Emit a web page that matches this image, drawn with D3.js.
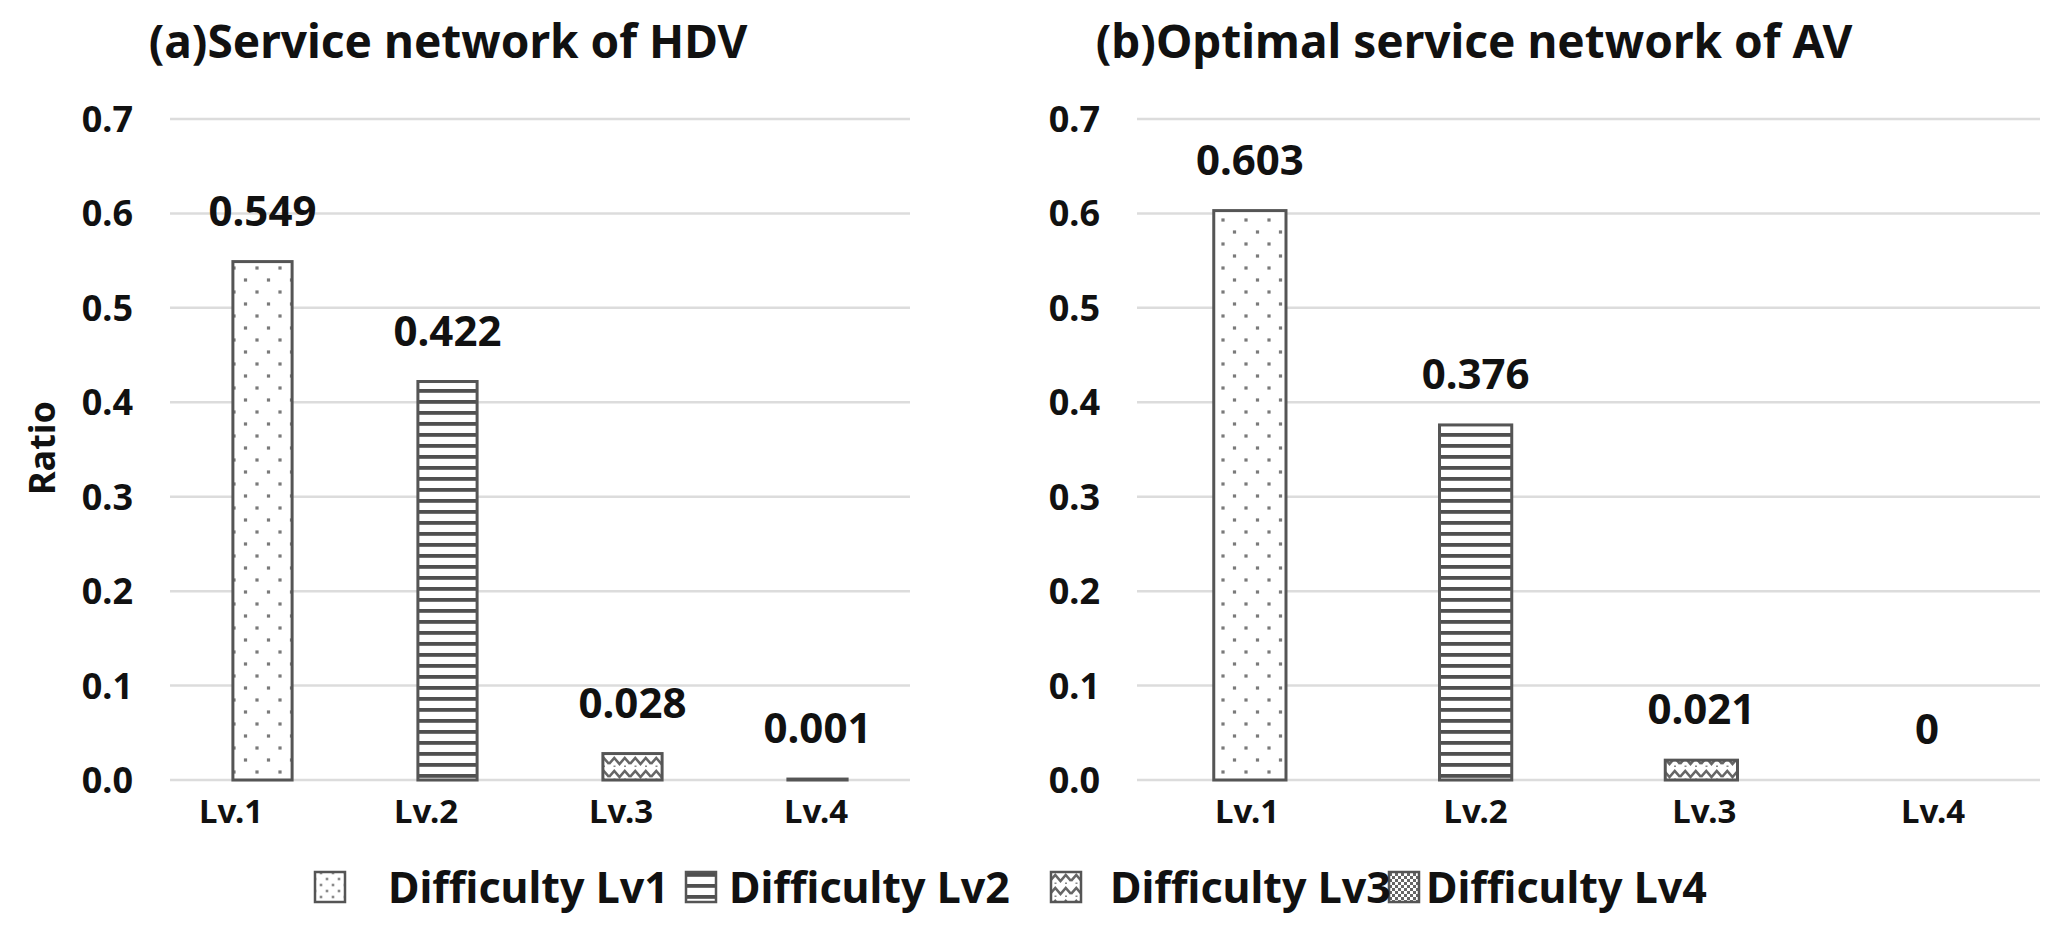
<!DOCTYPE html>
<html>
<head>
<meta charset="utf-8">
<script src="https://cdn.jsdelivr.net/npm/d3@7"></script>
<style>
  html, body { margin: 0; padding: 0; background: #fff; }
  text { font-family: "Noto Sans", "Open Sans", sans-serif; font-weight: 700; fill: #111; }
</style>
</head>
<body>
<svg id="chart" width="2061" height="929"></svg>
<script>
// ---- data ----
const categories = ["Lv.1", "Lv.2", "Lv.3", "Lv.4"];
const hdvValues = [0.549, 0.422, 0.028, 0.001];
const avValues = [0.603, 0.376, 0.021, 0];
const valueLabels_hdv = ["0.549", "0.422", "0.028", "0.001"];
const valueLabels_av = ["0.603", "0.376", "0.021", "0"];
const yTicks = [0, 0.1, 0.2, 0.3, 0.4, 0.5, 0.6, 0.7];
const legendLabels = ["Difficulty Lv1", "Difficulty Lv2", "Difficulty Lv3", "Difficulty Lv4"];
const titles = ["(a)Service network of HDV", "(b)Optimal service network of AV"];
const yAxisTitle = "Ratio";

// ---- setup ----
const svg = d3.select("#chart");
svg.append("rect").attr("width", 2061).attr("height", 929).attr("fill", "#fff");
const defs = svg.append("defs");

// Pattern: dots (Lv1)
const p1 = defs.append("pattern").attr("id", "pat1").attr("patternUnits", "userSpaceOnUse")
  .attr("width", 23).attr("height", 24);
p1.append("rect").attr("width", 23).attr("height", 24).attr("fill", "#fff");
[[4, 4], [15.5, 16]].forEach(([cx, cy]) =>
  p1.append("rect").attr("x", cx - 1.6).attr("y", cy - 1.6).attr("width", 3.2).attr("height", 3.2).attr("fill", "#7a7a7a"));

// Pattern: dots dense (legend Lv1)
const p1b = defs.append("pattern").attr("id", "pat1b").attr("patternUnits", "userSpaceOnUse")
  .attr("width", 12).attr("height", 12);
p1b.append("rect").attr("width", 12).attr("height", 12).attr("fill", "#fff");
[[3, 3], [9, 9]].forEach(([cx, cy]) =>
  p1b.append("rect").attr("x", cx - 1.3).attr("y", cy - 1.3).attr("width", 2.6).attr("height", 2.6).attr("fill", "#8a8a8a"));

// Pattern: horizontal lines (Lv2)
const p2 = defs.append("pattern").attr("id", "pat2").attr("patternUnits", "userSpaceOnUse")
  .attr("width", 10).attr("height", 11);
p2.append("rect").attr("width", 10).attr("height", 11).attr("fill", "#fff");
p2.append("rect").attr("y", 4).attr("width", 10).attr("height", 3.8).attr("fill", "#505050");

// Pattern: wave (Lv3)
const p3 = defs.append("pattern").attr("id", "pat3").attr("patternUnits", "userSpaceOnUse")
  .attr("width", 21).attr("height", 13);
p3.append("rect").attr("width", 21).attr("height", 13).attr("fill", "#fff");
p3.append("path").attr("d", "M0,10 L5.25,4 L10.5,10 L15.75,4 L21,10")
  .attr("fill", "none").attr("stroke", "#666").attr("stroke-width", 2.6);
p3.append("rect").attr("x", 4.5).attr("y", 11.5).attr("width", 2).attr("height", 1.5).attr("fill", "#888");
p3.append("rect").attr("x", 15).attr("y", 11.5).attr("width", 2).attr("height", 1.5).attr("fill", "#888");

// Pattern: small grid (Lv4)
const p4 = defs.append("pattern").attr("id", "pat4").attr("patternUnits", "userSpaceOnUse")
  .attr("width", 6).attr("height", 6);
p4.append("rect").attr("width", 6).attr("height", 6).attr("fill", "#fff");
p4.append("rect").attr("width", 3).attr("height", 3).attr("fill", "#666");
p4.append("rect").attr("x", 3).attr("y", 3).attr("width", 3).attr("height", 3).attr("fill", "#666");

const fills = ["url(#pat1)", "url(#pat2)", "url(#pat3)", "url(#pat4)"];
const legendFills = ["url(#pat1b)", "url(#pat2)", "url(#pat3)", "url(#pat4)"];
const barStroke = "#555";

const y = d3.scaleLinear().domain([0, 0.7]).range([780, 119]);

function drawPanel(values, labels, x0, x1, labelRange, labelRight, title, titleX) {
  const g = svg.append("g");
  const x = d3.scaleBand().domain(categories).range([x0, x1])
    .paddingInner(0.68).paddingOuter(0.34);
  const xl = d3.scalePoint().domain(categories).range(labelRange);

  // grid lines
  g.selectAll("line.grid").data(yTicks).enter().append("line")
    .attr("x1", x0).attr("x2", x1)
    .attr("y1", d => y(d)).attr("y2", d => y(d))
    .attr("stroke", "#dcdcdc").attr("stroke-width", 2.5);

  // y tick labels
  g.selectAll("text.ytick").data(yTicks).enter().append("text")
    .attr("x", labelRight).attr("y", d => y(d)).attr("dy", "0.36em")
    .attr("text-anchor", "end").attr("font-size", 36)
    .text(d => d3.format(".1f")(d));

  // bars
  g.selectAll("rect.bar").data(values).enter().append("rect")
    .attr("x", (d, i) => x(categories[i]))
    .attr("width", x.bandwidth())
    .attr("y", d => y(d))
    .attr("height", d => y(0) - y(d))
    .attr("fill", (d, i) => fills[i])
    .attr("stroke", barStroke).attr("stroke-width", d => d > 0 ? 3 : 0);

  // value labels
  g.selectAll("text.val").data(values).enter().append("text")
    .attr("x", (d, i) => x(categories[i]) + x.bandwidth() / 2)
    .attr("y", d => y(d) - 36)
    .attr("text-anchor", "middle").attr("font-size", 42)
    .text((d, i) => labels[i]);

  // category labels
  g.selectAll("text.cat").data(categories).enter().append("text")
    .attr("x", d => xl(d))
    .attr("y", 823)
    .attr("text-anchor", "middle").attr("font-size", 33)
    .text(d => d);

  // title
  g.append("text").attr("x", titleX).attr("y", 58)
    .attr("text-anchor", "middle").attr("font-size", 46)
    .text(title);
}

drawPanel(hdvValues, valueLabels_hdv, 170, 910, [231, 816], 133, titles[0], 448);
drawPanel(avValues, valueLabels_av, 1137, 2040, [1247, 1933], 1100, titles[1], 1474);

// y axis title
svg.append("text")
  .attr("transform", "translate(55,448) rotate(-90)")
  .attr("text-anchor", "middle").attr("font-size", 36)
  .text(yAxisTitle);

// legend
const legendIconX = [315, 686, 1051, 1389];
const legendTextX = [388, 729, 1110, 1426];
const lg = svg.append("g");
lg.selectAll("rect").data(legendLabels).enter().append("rect")
  .attr("x", (d, i) => legendIconX[i]).attr("y", 872)
  .attr("width", 30).attr("height", 30)
  .attr("fill", (d, i) => legendFills[i])
  .attr("stroke", barStroke).attr("stroke-width", 2.5);
lg.selectAll("text").data(legendLabels).enter().append("text")
  .attr("x", (d, i) => legendTextX[i]).attr("y", 903)
  .attr("font-size", 43)
  .text(d => d);
</script>
</body>
</html>
